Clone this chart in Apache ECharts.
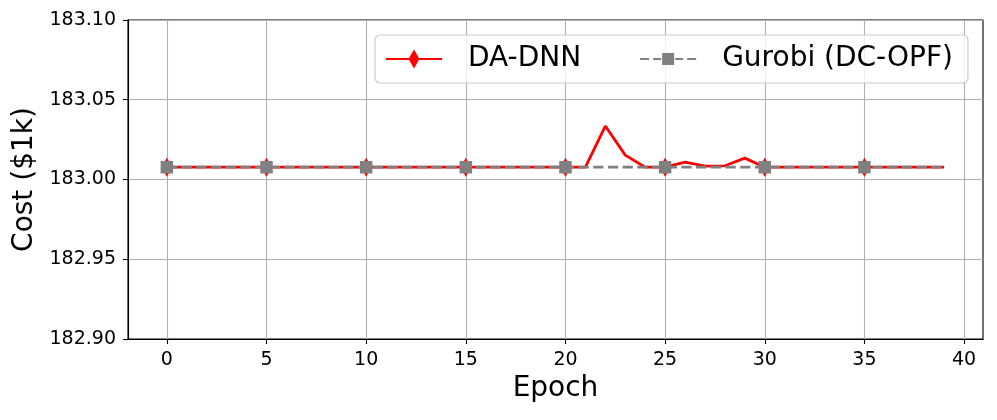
<!DOCTYPE html>
<html>
<head>
<meta charset="utf-8">
<script src="https://cdn.jsdelivr.net/npm/echarts@6/dist/echarts.min.js"></script>
<style>
html,body{margin:0;padding:0;background:#fff;}
#chart{width:997px;height:420px;}
</style>
</head>
<body>
<div id="chart"></div>
<script>
const epochs = [0,1,2,3,4,5,6,7,8,9,10,11,12,13,14,15,16,17,18,19,20,21,22,23,24,25,26,27,28,29,30,31,32,33,34,35,36,37,38,39];
const daDnnCost = [
  183.0077,183.0077,183.0077,183.0077,183.0077,183.0077,183.0077,183.0077,183.0077,183.0077,
  183.0077,183.0077,183.0077,183.0077,183.0077,183.0077,183.0077,183.0077,183.0077,183.0077,
  183.0077,183.0077,183.0335,183.0153,183.0077,183.0077,183.0109,183.0084,183.0086,183.0134,
  183.0077,183.0077,183.0077,183.0077,183.0077,183.0077,183.0077,183.0077,183.0077,183.0077
];
const gurobiCost = [
  183.0077,183.0077,183.0077,183.0077,183.0077,183.0077,183.0077,183.0077,183.0077,183.0077,
  183.0077,183.0077,183.0077,183.0077,183.0077,183.0077,183.0077,183.0077,183.0077,183.0077,
  183.0077,183.0077,183.0077,183.0077,183.0077,183.0077,183.0077,183.0077,183.0077,183.0077,
  183.0077,183.0077,183.0077,183.0077,183.0077,183.0077,183.0077,183.0077,183.0077,183.0077
];
const xTicks = [0,5,10,15,20,25,30,35,40];
const seriesNames = ['DA-DNN', 'Gurobi (DC-OPF)'];

const font = 'DejaVu Sans';
const chart = echarts.init(document.getElementById('chart'), null, {renderer: 'canvas'});
const markEvery = (v, p) => (p.dataIndex % 5 === 0);

chart.setOption({
  animation: false,
  backgroundColor: '#ffffff',
  grid: {left: 128, right: 14, top: 20, bottom: 81, show: true, borderColor: '#000', borderWidth: 1.1, backgroundColor: 'transparent'},
  legend: {
    left: 375, top: 35,
    padding: [10, 15, 10, 11],
    itemWidth: 56, itemHeight: 20, itemGap: 59,
    borderColor: '#cccccc', borderWidth: 1.2, borderRadius: 5,
    backgroundColor: 'rgba(255,255,255,0.8)',
    symbolKeepAspect: true,
    textStyle: {fontFamily: font, fontSize: 28, color: '#000', padding: [0, 0, 0, 21]},
    data: [
      {name: seriesNames[0], icon: 'path://M0,9L56,9L56,11L0,11Z M28,0.5L33.5,10L28,19.5L22.5,10Z', itemStyle: {color: '#ff0000'}},
      {name: seriesNames[1], icon: 'path://M0,5L9,5L9,7L0,7Z M13,5L21,5L21,7L13,7Z M22,0L34,0L34,12L22,12Z M35,5L43,5L43,7L35,7Z M47,5L56,5L56,7L47,7Z', itemStyle: {color: '#808080'}}
    ]
  },
  xAxis: {
    type: 'value', min: -1.95, max: 40.95,
    name: 'Epoch', nameLocation: 'middle', nameGap: 35,
    nameTextStyle: {fontFamily: font, fontSize: 28, color: '#000'},
    axisLine: {show: true, onZero: false, lineStyle: {color: '#000', width: 1.1}},
    axisTick: {show: true, length: 5, inside: false, customValues: xTicks, lineStyle: {color: '#000', width: 1.1}},
    axisLabel: {customValues: xTicks, fontFamily: font, fontSize: 19, color: '#000', margin: 12},
    splitLine: {show: true, lineStyle: {color: '#b0b0b0', width: 1.1}}
  },
  yAxis: {
    type: 'value', min: 182.9, max: 183.1, interval: 0.05,
    name: 'Cost ($1k)', nameLocation: 'middle', nameGap: 86,
    nameTextStyle: {fontFamily: font, fontSize: 28, color: '#000'},
    axisLine: {show: true, onZero: false, lineStyle: {color: '#000', width: 1.1}},
    axisTick: {show: true, length: 5, lineStyle: {color: '#000', width: 1.1}},
    axisLabel: {fontFamily: font, fontSize: 19, color: '#000', margin: 12, formatter: v => v.toFixed(2)},
    splitLine: {show: true, lineStyle: {color: '#b0b0b0', width: 1.1}}
  },
  series: [
    {
      name: seriesNames[0], type: 'line',
      data: epochs.map((e, i) => [e, daDnnCost[i]]),
      showAllSymbol: true,
      symbol: 'diamond',
      symbolSize: (v, p) => markEvery(v, p) ? [11, 19] : 0,
      lineStyle: {color: '#ff0000', width: 2.8},
      itemStyle: {color: '#ff0000', borderWidth: 0},
      emphasis: {disabled: true}
    },
    {
      name: seriesNames[1], type: 'line',
      data: epochs.map((e, i) => [e, gurobiCost[i]]),
      showAllSymbol: true,
      symbol: 'rect',
      symbolSize: (v, p) => markEvery(v, p) ? 12.5 : 0,
      lineStyle: {color: '#808080', width: 2.8, type: [10.3, 4.4]},
      itemStyle: {color: '#808080', borderWidth: 0},
      emphasis: {disabled: true}
    }
  ]
});
</script>
</body>
</html>
